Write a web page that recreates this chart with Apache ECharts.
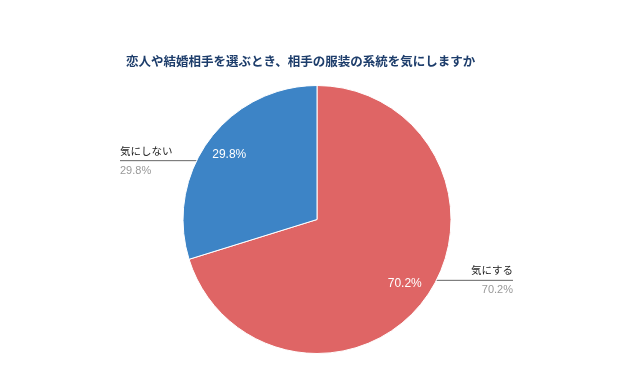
<!DOCTYPE html>
<html><head><meta charset="utf-8">
<script src="https://cdn.jsdelivr.net/npm/echarts@6/dist/echarts.min.js"></script>
<style>html,body{margin:0;padding:0;background:#fff}#c{width:640px;height:392px}</style>
</head><body><div id="c"></div>
<script>
const titleText = '恋人や結婚相手を選ぶとき、相手の服装の系統を気にしますか';
const categories = ['気にする', '気にしない'];
const values = [70.2, 29.8];
const colors = ['#df6565', '#3d84c6'];

const CX = 317, CY = 219.5, R = 134;
const total = values.reduce((a, b) => a + b, 0);
function midAngle(i) {
  let cum = 0;
  for (let k = 0; k < i; k++) cum += values[k];
  return 2 * Math.PI * (cum + values[i] / 2) / total;
}
function anchor(i, rr) {
  const t = midAngle(i);
  return [CX + rr * Math.sin(t), CY - rr * Math.cos(t)];
}

const data = categories.map((c, i) => ({ name: c, value: values[i], itemStyle: { color: colors[i] } }));
const font = "'Liberation Sans', 'Noto Sans CJK JP', sans-serif";

const chart = echarts.init(document.getElementById('c'), null, { renderer: 'canvas' });
chart.setOption({
  animation: false,
  title: {
    text: titleText, left: 121, top: 50,
    textStyle: { fontSize: 12.5, fontWeight: 'bold', color: '#1d3d6b', fontFamily: "'Noto Sans CJK JP', sans-serif" }
  },
  series: [
    {
      type: 'pie', center: [CX, CY], radius: R, startAngle: 90, clockwise: true,
      data: data,
      itemStyle: { borderColor: '#fff', borderWidth: 1 },
      label: {
        show: true, position: 'outside',
        formatter: p => '{n|' + p.name + '}\n{v|' + p.value.toFixed(1) + '%}',
        rich: {
          n: { fontSize: 10.5, color: '#222', lineHeight: 20, fontFamily: "'Noto Sans CJK JP', sans-serif" },
          v: { fontSize: 11, color: '#999', lineHeight: 20, fontFamily: font }
        }
      },
      labelLine: { show: true, lineStyle: { color: '#666', width: 1 } },
      labelLayout: function (params) {
        const i = params.dataIndex;
        const a = anchor(i, 106);
        const right = Math.sin(midAngle(i)) >= 0;
        const y = right ? a[1] - 2 : a[1] + 4;
        if (right) {
          const x2 = CX + 196;
          return { x: x2, y: y, align: 'right', verticalAlign: 'middle',
            labelLinePoints: [[a[0] + 12, y], [a[0] + 13, y], [x2, y]] };
        } else {
          const x2 = CX - 197;
          return { x: x2, y: y, align: 'left', verticalAlign: 'middle',
            labelLinePoints: [[a[0] - 16, y], [a[0] - 17, y], [x2, y]] };
        }
      },
      emphasis: { disabled: true }
    },
    {
      type: 'pie', center: [CX, CY], radius: [78, R], startAngle: 90, clockwise: true,
      silent: true, z: 3,
      data: data.map(d => ({ name: d.name, value: d.value, itemStyle: { color: 'rgba(0,0,0,0)' } })),
      label: {
        show: true, position: 'inside', color: '#fff', fontSize: 12, fontWeight: 'normal', fontFamily: font,
        formatter: p => p.value.toFixed(1) + '%'
      },
      labelLine: { show: false },
      emphasis: { disabled: true }
    }
  ]
});
</script></body></html>
